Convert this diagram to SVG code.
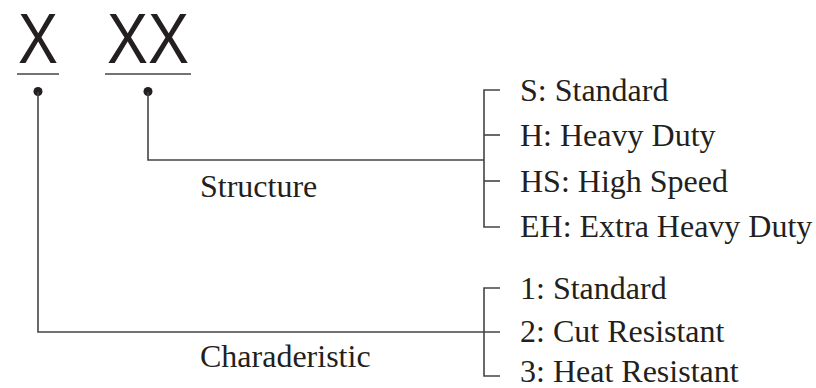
<svg xmlns="http://www.w3.org/2000/svg" width="816" height="388" viewBox="0 0 816 388">
<style>
.code{font-family:"Liberation Sans",Arial,sans-serif;font-size:70px;fill:#231f20}
.lbl{font-family:"Liberation Serif","Times New Roman",serif;font-size:32px;fill:#231f20}
.ln{stroke:#444;stroke-width:1.6;fill:none}
.dot{fill:#231f20}
</style>
<rect width="816" height="388" fill="#fff"/>
<g id="code-char">
<text class="code" x="18" y="63" textLength="40" lengthAdjust="spacingAndGlyphs">X</text>
<line class="ln" x1="17" y1="74" x2="59" y2="74"/>
<circle class="dot" cx="38" cy="91.5" r="4.5"/>
</g>
<g id="code-struct">
<text class="code" x="107" y="63" textLength="82" lengthAdjust="spacingAndGlyphs">XX</text>
<line class="ln" x1="105" y1="74" x2="191" y2="74"/>
<circle class="dot" cx="148" cy="91.5" r="4.5"/>
</g>
<g id="connectors">
<polyline class="ln" points="148,92 148,160 484,160"/>
<polyline class="ln" points="38,92 38,332 500,332"/>
<polyline class="ln" points="500,90 484,90 484,227 500,227"/>
<line class="ln" x1="484" y1="135" x2="500" y2="135"/>
<line class="ln" x1="484" y1="181" x2="500" y2="181"/>
<polyline class="ln" points="500,288 484,288 484,376 500,376"/>
</g>
<g id="structure">
<text class="lbl" x="200" y="197">Structure</text>
<text class="lbl" x="520" y="101">S: Standard</text>
<text class="lbl" x="520" y="146">H: Heavy Duty</text>
<text class="lbl" x="520" y="192">HS: High Speed</text>
<text class="lbl" x="520" y="237">EH: Extra Heavy Duty</text>
</g>
<g id="characteristic">
<text class="lbl" x="200" y="367">Charaderistic</text>
<text class="lbl" x="520" y="299">1: Standard</text>
<text class="lbl" x="520" y="342">2: Cut Resistant</text>
<text class="lbl" x="520" y="382">3: Heat Resistant</text>
</g>
</svg>
